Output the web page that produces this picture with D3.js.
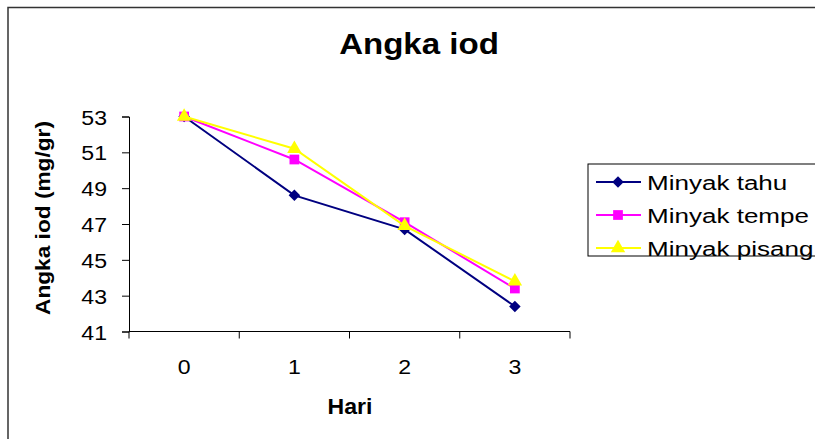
<!DOCTYPE html>
<html>
<head>
<meta charset="utf-8">
<script src="https://cdn.jsdelivr.net/npm/d3@7"></script>
<style>
  html, body { margin: 0; padding: 0; background: #fff; overflow: hidden; }
  svg { display: block; }
  text { font-family: "Liberation Sans", Arial, sans-serif; fill: #000; }
</style>
</head>
<body>
<div id="chart"></div>
<script>
// data
const hari = ["0", "1", "2", "3"];
const minyakTahu = [53, 48.6, 46.7, 42.4];
const minyakTempe = [53, 50.6, 47.1, 43.4];
const minyakPisang = [53, 51.2, 46.9, 43.8];
const yTicks = [41, 43, 45, 47, 49, 51, 53];

const series = [
  { name: "Minyak tahu", values: minyakTahu, color: "#000080", symbol: d3.symbolDiamond2, size: 85 },
  { name: "Minyak tempe", values: minyakTempe, color: "#FF00FF", symbol: d3.symbolSquare, size: 95 },
  { name: "Minyak pisang", values: minyakPisang, color: "#FFFF00", symbol: d3.symbolTriangle, size: 90 },
];

const W = 815, H = 439;
const plot = { left: 129, right: 570, top: 116.5, bottom: 331.5 };

const svg = d3.select("#chart").append("svg")
  .attr("width", W).attr("height", H);

// outer chart frame (right and bottom run off the picture)
svg.append("rect")
  .attr("x", 8).attr("y", 7.5)
  .attr("width", 830).attr("height", 460)
  .attr("fill", "none").attr("stroke", "#333").attr("stroke-width", 1.5);

// stretched text helper (Excel text is wider than Arial here)
function label(x, y, str, size, weight, sx, anchor, rot) {
  return svg.append("text")
    .attr("transform", `translate(${x},${y})` + (rot ? ` rotate(${rot})` : "") + ` scale(${sx},1)`)
    .attr("text-anchor", anchor || "middle")
    .style("font-size", size + "px")
    .style("font-weight", weight)
    .text(str);
}

const x = d3.scaleBand().domain(hari).range([plot.left, plot.right]);
const y = d3.scaleLinear().domain([41, 53]).range([plot.bottom, plot.top]);

// axes
const yAxis = svg.append("g")
  .attr("transform", `translate(${plot.left},0)`)
  .call(d3.axisLeft(y).tickValues(yTicks).tickSize(7).tickFormat(""));
const xAxis = svg.append("g")
  .attr("transform", `translate(0,${plot.bottom})`)
  .call(d3.axisBottom(x).tickSize(0).tickFormat(""));
[yAxis, xAxis].forEach(a => {
  a.select(".domain").attr("stroke", "#000").attr("stroke-width", 1);
  a.selectAll("line").attr("stroke", "#000");
});
xAxis.select(".domain").attr("d", `M${plot.left},0H${plot.right}`);
// category boundary ticks
xAxis.selectAll(".sep")
  .data(hari.concat(["end"]))
  .enter().append("line")
  .attr("class", "sep")
  .attr("x1", (d, i) => plot.left + i * x.step())
  .attr("x2", (d, i) => plot.left + i * x.step())
  .attr("y1", 0).attr("y2", 7)
  .attr("stroke", "#000");

// tick labels
yTicks.forEach(t => label(107, y(t) + 8, String(t), 21, "normal", 1.1, "end"));
hari.forEach(h => label(x(h) + x.bandwidth() / 2, 374, h, 21, "normal", 1.1, "middle"));

// titles
label(419, 54, "Angka iod", 29, "bold", 1.14, "middle");
label(350, 414, "Hari", 22, "bold", 1.05, "middle");
label(50, 218, "Angka iod (mg/gr)", 21, "bold", 1.08, "middle", -90);

// lines and markers
const line = d3.line()
  .x((d, i) => x(hari[i]) + x.bandwidth() / 2)
  .y(d => y(d));

series.forEach(s => {
  svg.append("path")
    .datum(s.values)
    .attr("d", line)
    .attr("fill", "none")
    .attr("stroke", s.color)
    .attr("stroke-width", 2);
  svg.selectAll(null)
    .data(s.values)
    .enter().append("path")
    .attr("d", d3.symbol().type(s.symbol).size(s.size))
    .attr("transform", (d, i) => `translate(${x(hari[i]) + x.bandwidth() / 2},${y(d)})`)
    .attr("fill", s.color);
});

// legend
const lg = svg.append("g");
lg.append("rect")
  .attr("x", 588).attr("y", 164)
  .attr("width", 260).attr("height", 92)
  .attr("fill", "#fff").attr("stroke", "#000").attr("stroke-width", 1);
series.forEach((s, i) => {
  const ly = 182 + i * 33;
  lg.append("line")
    .attr("x1", 596).attr("x2", 641)
    .attr("y1", ly).attr("y2", ly)
    .attr("stroke", s.color).attr("stroke-width", 2);
  lg.append("path")
    .attr("d", d3.symbol().type(s.symbol).size(s.size))
    .attr("transform", `translate(618,${ly})`)
    .attr("fill", s.color);
  label(647, ly + 7.5, s.name, 21, "normal", 1.24, "start");
});
</script>
</body>
</html>
